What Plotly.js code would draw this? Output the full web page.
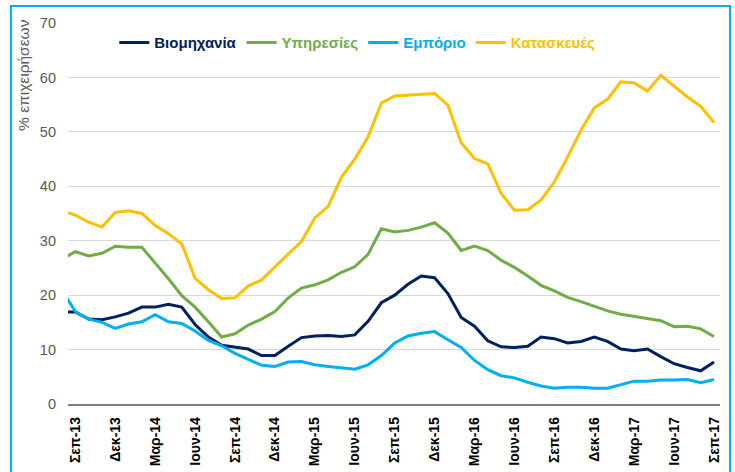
<!DOCTYPE html>
<html>
<head>
<meta charset="utf-8">
<script src="https://cdn.plot.ly/plotly-3.0.1.min.js"></script>
<style>
  html, body { margin: 0; padding: 0; background: #ffffff; }
  #wrap { position: relative; width: 735px; height: 472px; overflow: hidden; }
  #frame { position: absolute; left: 10px; top: 5px; width: 721px; height: 480px; border: 2px solid #00b0f0; box-sizing: border-box; pointer-events: none; }
  #chart { position: absolute; left: 0; top: 0; width: 735px; height: 472px; }
</style>
</head>
<body>
<div id="wrap">
  <div id="chart"></div>
  <div id="frame"></div>
</div>
<script>
// Monthly categories (first one is only partially visible at the left edge)
var months = ['Αυγ-13','Σεπ-13','Οκτ-13','Νοε-13','Δεκ-13','Ιαν-14','Φεβ-14','Μαρ-14','Απρ-14','Μαϊ-14','Ιουν-14','Ιουλ-14',
  'Αυγ-14','Σεπ-14','Οκτ-14','Νοε-14','Δεκ-14','Ιαν-15','Φεβ-15','Μαρ-15','Απρ-15','Μαϊ-15','Ιουν-15','Ιουλ-15',
  'Αυγ-15','Σεπ-15','Οκτ-15','Νοε-15','Δεκ-15','Ιαν-16','Φεβ-16','Μαρ-16','Απρ-16','Μαϊ-16','Ιουν-16','Ιουλ-16',
  'Αυγ-16','Σεπ-16','Οκτ-16','Νοε-16','Δεκ-16','Ιαν-17','Φεβ-17','Μαρ-17','Απρ-17','Μαϊ-17','Ιουν-17','Ιουλ-17',
  'Αυγ-17','Σεπ-17'];

var tickLabels = ['Σεπ-13','Δεκ-13','Μαρ-14','Ιουν-14','Σεπ-14','Δεκ-14','Μαρ-15','Ιουν-15','Σεπ-15',
  'Δεκ-15','Μαρ-16','Ιουν-16','Σεπ-16','Δεκ-16','Μαρ-17','Ιουν-17','Σεπ-17'];

var seriesNames = ['Βιομηχανία','Υπηρεσίες','Εμπόριο','Κατασκευές'];

var industry = [16.9, 16.9, 15.6, 15.5, 16.0, 16.7, 17.8, 17.8, 18.3, 17.8, 14.6, 12.3, 10.8, 10.4, 10.1, 8.9, 8.9,
  10.6, 12.2, 12.5, 12.6, 12.4, 12.7, 15.2, 18.6, 20.0, 22.0, 23.5, 23.2, 20.3, 15.9, 14.3, 11.6, 10.5, 10.4, 10.6,
  12.3, 12.0, 11.2, 11.5, 12.3, 11.5, 10.1, 9.8, 10.1, 8.7, 7.4, 6.7, 6.1, 7.7];

var services = [26.6, 28.0, 27.2, 27.7, 29.0, 28.8, 28.8, 26.0, 23.0, 19.9, 17.8, 15.1, 12.3, 12.9, 14.5, 15.6, 17.0,
  19.5, 21.3, 21.9, 22.8, 24.2, 25.2, 27.5, 32.2, 31.6, 31.9, 32.5, 33.3, 31.4, 28.2, 29.0, 28.2, 26.4, 25.1, 23.5,
  21.8, 20.8, 19.6, 18.8, 18.0, 17.1, 16.5, 16.1, 15.7, 15.3, 14.2, 14.3, 13.8, 12.4];

var trade = [20.9, 17.0, 15.6, 15.0, 13.9, 14.7, 15.1, 16.4, 15.1, 14.8, 13.4, 11.7, 10.7, 9.3, 8.2, 7.1, 6.9,
  7.7, 7.8, 7.2, 6.9, 6.7, 6.4, 7.2, 8.9, 11.2, 12.5, 13.0, 13.3, 11.8, 10.4, 8.0, 6.3, 5.2, 4.8, 4.0,
  3.3, 2.9, 3.1, 3.1, 2.9, 2.9, 3.5, 4.2, 4.2, 4.4, 4.4, 4.5, 3.9, 4.5];

var construction = [35.5, 34.7, 33.4, 32.5, 35.2, 35.5, 35.0, 32.8, 31.3, 29.4, 23.1, 21.0, 19.4, 19.5, 21.7, 22.8, 25.2,
  27.5, 29.9, 34.2, 36.3, 41.7, 45.0, 49.1, 55.3, 56.6, 56.8, 56.9, 57.05, 54.9, 48.0, 45.1, 44.1, 38.7, 35.6, 35.7,
  37.5, 40.8, 45.4, 50.3, 54.4, 56.0, 59.2, 59.0, 57.5, 60.4, 58.4, 56.4, 54.7, 51.7];

var colors = ['#002060', '#70ad47', '#00b0f0', '#ffc000'];
var values = [industry, services, trade, construction];

var traces = values.map(function (v, k) {
  return {
    x: months,
    y: v,
    type: 'scatter',
    mode: 'lines',
    name: '<span style="color:' + colors[k] + '">' + seriesNames[k] + '</span>',
    line: { color: colors[k], width: 3 },
    hoverinfo: 'x+y'
  };
});

var FONT = '"Liberation Sans", Arial, sans-serif';

var layout = {
  width: 735,
  height: 472,
  margin: { l: 67.5, r: 15, t: 23, b: 68 },
  paper_bgcolor: 'rgba(0,0,0,0)',
  plot_bgcolor: 'rgba(0,0,0,0)',
  font: { family: FONT, color: '#595959' },
  showlegend: true,
  legend: {
    orientation: 'h',
    x: 0.071, xanchor: 'left',
    y: 0.948, yanchor: 'middle',
    font: { family: FONT, size: 15, weight: 'bold' },
    bgcolor: 'rgba(0,0,0,0)',
    itemwidth: 30,
    traceorder: 'normal'
  },
  xaxis: {
    type: 'category',
    categoryorder: 'array',
    categoryarray: months,
    range: [0.45, 49.45],
    tickmode: 'array',
    tickvals: tickLabels,
    ticktext: tickLabels.map(function (t) { return '<b>' + t + '</b>'; }),
    tickangle: -90,
    tickfont: { family: FONT, size: 14, color: '#000000' },
    ticks: '',
    ticklabelstandoff: 6,
    showgrid: false,
    showline: true,
    linecolor: '#7f7f7f',
    linewidth: 1.5,
    zeroline: false,
    fixedrange: true
  },
  yaxis: {
    range: [0, 70],
    dtick: 10,
    tick0: 0,
    showgrid: true,
    gridcolor: '#d9d9d9',
    gridwidth: 1,
    zeroline: false,
    showline: false,
    ticks: '',
    ticklabelstandoff: 11,
    tickfont: { family: FONT, size: 14.5, color: '#595959' },
    fixedrange: true
  },
  annotations: [{
    text: '% επιχειρήσεων',
    textangle: -90,
    xref: 'paper', yref: 'paper',
    x: -0.068, xanchor: 'center',
    y: 1.015, yanchor: 'top',
    showarrow: false,
    font: { family: FONT, size: 15.5, color: '#595959' }
  }]
};

Plotly.newPlot('chart', traces, layout, { displayModeBar: false, staticPlot: true });
</script>
</body>
</html>
